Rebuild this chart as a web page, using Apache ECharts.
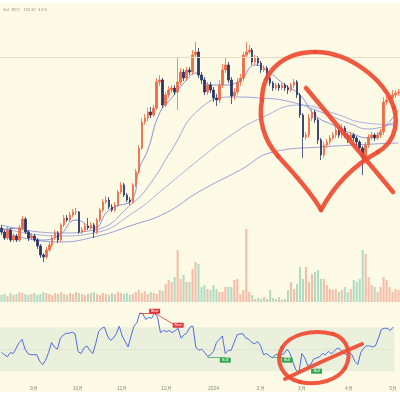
<!DOCTYPE html>
<html><head><meta charset="utf-8">
<script src="https://cdn.jsdelivr.net/npm/echarts/dist/echarts.min.js"></script>
<style>html,body{margin:0;padding:0;background:#fff}#c{width:400px;height:400px}</style>
</head><body><div id="c"></div>
<script>
// ---- data (price units, 2-day candles starting 2023-08-09) ----
const opens = [
0.72,0.68,0.62,0.70,0.60,0.64,0.60,0.72,0.81,0.68,
0.62,0.64,0.60,0.54,0.45,0.43,0.50,0.55,0.62,0.67,
0.60,0.75,0.82,0.80,0.85,0.88,0.88,0.68,0.70,0.74,
0.72,0.75,0.68,0.80,0.90,0.98,1.00,0.93,0.90,0.95,
1.08,1.15,1.05,1.00,0.98,1.15,1.28,1.52,1.78,1.82,
1.88,1.85,1.92,2.18,2.20,1.95,2.05,2.10,2.12,2.08,
2.18,2.28,2.22,2.30,2.28,2.45,2.48,2.25,2.20,2.08,
2.15,2.10,2.02,2.00,2.15,2.30,2.35,2.20,2.04,2.08,
2.18,2.22,2.45,2.48,2.50,2.38,2.42,2.37,2.30,2.32,
2.22,2.17,2.12,2.15,2.12,2.15,2.12,2.10,2.15,2.18,
2.05,1.85,1.63,1.65,1.82,1.88,1.80,1.60,1.45,1.55,
1.58,1.62,1.65,1.70,1.65,1.72,1.65,1.60,1.65,1.62,
1.58,1.52,1.42,1.55,1.63,1.65,1.62,1.65,1.68,1.98,
2.00,2.02,2.05,2.07];
const closes = [
0.68,0.62,0.70,0.60,0.64,0.60,0.72,0.81,0.68,0.62,
0.64,0.60,0.54,0.45,0.43,0.50,0.55,0.62,0.67,0.60,
0.75,0.82,0.80,0.85,0.88,0.88,0.68,0.70,0.74,0.72,
0.75,0.68,0.80,0.90,0.98,1.00,0.93,0.90,0.95,1.08,
1.15,1.05,1.00,0.98,1.15,1.28,1.52,1.78,1.82,1.88,
1.85,1.92,2.18,2.20,1.95,2.05,2.10,2.12,2.08,2.18,
2.28,2.22,2.30,2.28,2.45,2.48,2.25,2.20,2.08,2.15,
2.10,2.02,2.00,2.15,2.30,2.35,2.20,2.04,2.08,2.18,
2.22,2.45,2.48,2.50,2.38,2.42,2.37,2.30,2.32,2.22,
2.17,2.12,2.15,2.12,2.15,2.12,2.10,2.15,2.18,2.05,
1.85,1.63,1.65,1.82,1.88,1.80,1.60,1.45,1.55,1.58,
1.62,1.65,1.70,1.65,1.72,1.65,1.60,1.65,1.62,1.58,
1.52,1.42,1.55,1.63,1.65,1.62,1.65,1.68,1.98,2.00,
2.02,2.05,2.07,2.08];
const highs = [
0.75,0.70,0.73,0.72,0.67,0.66,0.75,0.84,0.83,0.70,
0.67,0.66,0.62,0.56,0.47,0.53,0.58,0.65,0.70,0.69,
0.77,0.85,0.85,0.88,0.91,0.92,0.89,0.73,0.77,0.82,
0.78,0.77,0.82,0.92,1.01,1.04,1.03,0.96,0.98,1.10,
1.18,1.17,1.07,1.03,1.17,1.31,1.55,1.82,1.86,1.92,
1.93,1.95,2.22,2.25,2.22,2.08,2.14,2.15,2.15,2.42,
2.32,2.31,2.33,2.33,2.50,2.58,2.52,2.28,2.23,2.18,
2.18,2.13,2.06,2.20,2.36,2.42,2.38,2.23,2.12,2.22,
2.26,2.48,2.58,2.55,2.52,2.45,2.44,2.39,2.35,2.34,
2.24,2.19,2.17,2.17,2.17,2.17,2.15,2.17,2.21,2.20,
2.07,1.87,1.68,1.86,1.91,1.90,1.82,1.62,1.58,1.61,
1.65,1.68,1.74,1.73,1.76,1.74,1.67,1.68,1.67,1.64,
1.60,1.54,1.58,1.66,1.68,1.67,1.68,1.71,2.03,2.04,
2.05,2.10,2.10,2.11];
const lows = [
0.65,0.60,0.60,0.58,0.58,0.58,0.58,0.70,0.66,0.59,
0.60,0.58,0.51,0.42,0.38,0.41,0.48,0.53,0.60,0.57,
0.58,0.73,0.78,0.78,0.83,0.85,0.66,0.66,0.68,0.70,
0.70,0.62,0.66,0.78,0.88,0.96,0.91,0.88,0.88,0.93,
1.06,1.03,0.98,0.95,0.96,1.13,1.26,1.50,1.75,1.79,
1.82,1.83,1.90,2.14,1.92,1.93,2.02,2.07,2.05,1.90,
2.15,2.19,2.19,2.25,2.25,2.42,2.22,2.16,2.05,2.05,
2.07,1.98,1.94,1.97,2.12,2.27,2.17,1.96,2.00,2.05,
2.14,2.19,2.42,2.46,2.35,2.35,2.34,2.27,2.28,2.19,
2.14,2.09,2.10,2.09,2.10,2.09,2.06,2.08,2.12,2.02,
1.82,1.42,1.60,1.62,1.79,1.77,1.56,1.40,1.42,1.52,
1.55,1.60,1.62,1.62,1.62,1.62,1.57,1.58,1.59,1.55,
1.49,1.25,1.40,1.52,1.60,1.59,1.60,1.62,1.65,1.95,
1.97,1.99,2.02,2.04];
const volumes = [
7,8,6,9,7,8,10,9,8,7,
8,9,7,8,10,9,8,7,9,8,
10,8,7,9,8,10,9,8,7,8,
9,10,8,7,9,8,7,9,8,10,
9,8,9,7,8,10,12,9,11,8,
10,9,8,12,11,18,22,20,25,52,
23,27,20,20,33,40,38,15,17,13,
12,17,13,10,10,15,15,15,22,23,
8,12,73,10,7,3,4,3,5,3,
12,4,3,5,2,3,12,20,13,18,
35,23,35,20,28,30,32,23,23,17,
13,12,13,10,12,15,10,13,22,20,
23,52,48,25,17,15,10,15,25,22,
15,10,13,12];
const rsi = [
47,45,43,47,46,51,56,59,50,46,
45,45,45,39,36,40,47,56,52,50,
60,63,64.5,64.5,65.5,64,48,46,51,53,
49,46,55,66,69,70,62,58,60,64,
71,62,57,52,62,71,74,83,82,77,
79,78,83,79,65,67,66,67,65,67,
69,60,63,65,70,71,52,49,50,47,
43.5,45,48,56,59,62,46,49,49,56,
63,64,64,60,59,56,55,57,53,45,
46,44,42,45,45,45,46,50,46,38,
31,29,46,42,35,36,41,42,43,46,
45,48,46,48,51,50,47,45,47,45,
39,36,47,51,53,53,52,53,60,68,
69,69,67,70];
// moving-average lines: [candle index, value]
const ma1 = [[0,0.70],[6,0.72],[13,0.60],[19,0.64],[25,0.80],[31,0.72],[36,0.90],[44,1.02],[46,1.30],[49,1.50],[53,1.87],[57,2.02],[62,2.20],[65,2.27],[70,2.15],[75,2.15],[80,2.20],[85,2.35],[90,2.27],[95,2.15],[100,2.05],[105,1.85],[111,1.75],[117,1.67],[123,1.62],[128,1.72],[133,1.90]];
const ma2 = [[0,0.75],[19,0.67],[31,0.70],[44,0.97],[50,1.17],[57,1.50],[66,1.90],[77,2.03],[87,2.02],[97,1.98],[107,1.88],[117,1.76],[123,1.71],[133,1.80]];
const ma3 = [[0,0.72],[19,0.64],[31,0.67],[44,0.87],[55,1.13],[66,1.40],[77,1.65],[87,1.82],[100,1.95],[111,1.87],[122,1.77],[133,1.75]];
const ma4 = [[0,0.68],[19,0.58],[31,0.63],[44,0.75],[55,0.87],[66,1.08],[80,1.30],[91,1.48],[107,1.53],[133,1.57]];
const refLevel = 2.43;
// x tick labels
const tickIdx = [11,26,41,56,72,88,102,118,133];
const tickLabels = ['9月','10月','11月','12月','2024','2月','3月','4月','5月'];
// RSI divergence marks
const bearLines = [[[47,83],[52,83]],[[52,83],[60,70]]];
const bullLines = [[[70,43],[76,43]],[[92,43],[96,43]],[[101,29],[105,34]]];
const bearLabels = [[52,84.5],[60,71.8]];
const bullLabels = [[76,40],[97,40],[107,30]];

// categories: dates every 2 days
const categories = [];
{ const d0 = new Date(Date.UTC(2023,7,9));
  for (let i=0;i<closes.length;i++){ const d=new Date(d0.getTime()+i*2*86400000); categories.push(d.toISOString().slice(0,10)); } }

const candle = closes.map((c,i)=>[opens[i],c,lows[i],highs[i]]);
const UP='#f06a45', DOWN='#2c3566';
const volData = volumes.map((v,i)=>({value:v,itemStyle:{color: closes[i]>=opens[i]?'rgba(240,130,110,0.5)':'rgba(80,185,155,0.45)'}}));

// hand-drawn red annotation strokes (cubic / quadratic segments)
const RED = {stroke:'#ef4b32',lineWidth:4.5,lineCap:'round',lineJoin:'round',opacity:0.92,fill:null};
function curve(p, w){
  const s = {x1:p[0],y1:p[1],x2:p[p.length-2],y2:p[p.length-1],cpx1:p[2],cpy1:p[3]};
  if (p.length===8){ s.cpx2=p[4]; s.cpy2=p[5]; }
  return {type:'bezierCurve',silent:true,z:100,shape:s,style:Object.assign({},RED,{lineWidth:w})};
}
const strokes = [
  [262,100, 262,70, 285,52, 315,52],
  [315,52, 350,52, 385,80, 394,108],
  [394,108, 400,130, 390,145, 378,152],
  [378,152, 360,162, 338,178, 321,210],
  [321,210, 310,190, 292,172, 278,156],
  [278,156, 264,140, 258,120, 262,100],
  [306,88, 348,138, 393,192]
].map(p=>curve(p,4.5)).concat([
  [333,334, 347,338, 353,354, 345,368],
  [345,368, 338,380, 318,386, 300,382],
  [300,382, 283,378, 274,362, 282,348],
  [282,348, 290,334, 312,329, 333,334],
  [285,379, 320,362, 362,344]
].map(p=>curve(p,4)));

const chart = echarts.init(document.getElementById('c'), null, {renderer:'canvas'});
const maLine = (data,color)=>({type:'line',xAxisIndex:0,yAxisIndex:0,data,smooth:0.5,showSymbol:false,silent:true,lineStyle:{width:0.9,color},z:1});
const xa = (gi,show)=>({type:'category',gridIndex:gi,data:categories,boundaryGap:true,
  axisLine:{show:false},axisTick:{show:false},splitLine:{show:false},
  axisLabel:{show:show,fontSize:5,color:'#8a8a8a',margin:2,
    interval:(idx)=>tickIdx.indexOf(idx)>=0,
    formatter:(v,idx)=>{const k=tickIdx.indexOf(idx);return k>=0?tickLabels[k]:'';}}});
chart.setOption({
  animation:false,
  backgroundColor:'#fdfbe6',
  grid:[
    {left:0,right:0,top:0,height:300},
    {left:0,right:0,top:222,height:80},
    {left:0,right:0,top:305.2,height:79.2}
  ],
  xAxis:[xa(0,false),xa(1,false),xa(2,true)],
  yAxis:[
    {type:'value',gridIndex:0,min:0,max:3,show:false},
    {type:'value',gridIndex:1,min:0,max:80,show:false},
    {type:'value',gridIndex:2,min:18,max:90,show:false}
  ],
  series:[
    {type:'bar',xAxisIndex:1,yAxisIndex:1,data:volData,barWidth:'70%',silent:true,z:0},
    maLine(ma4,'#8f93d4'),
    maLine(ma3,'#a2a6e2'),
    maLine(ma2,'#9499dc'),
    maLine(ma1,'#7d85d8'),
    {type:'candlestick',xAxisIndex:0,yAxisIndex:0,data:candle,barWidth:2,
      itemStyle:{color:UP,color0:DOWN,borderColor:UP,borderColor0:DOWN,borderWidth:0.8},
      markLine:{silent:true,symbol:'none',label:{show:false},lineStyle:{color:'#e8dcc2',width:1,type:'solid'},data:[{yAxis:refLevel}]},
      z:3},
    {type:'line',xAxisIndex:2,yAxisIndex:2,data:rsi,showSymbol:false,smooth:false,silent:true,
      lineStyle:{width:1,color:'#4f6fdc'},
      markArea:{silent:true,itemStyle:{color:'rgba(140,185,175,0.16)'},data:[[{yAxis:30},{yAxis:70}]]},
      markLine:{silent:true,symbol:'none',label:{show:false},
        data:[
          {yAxis:50,lineStyle:{color:'rgba(150,170,160,0.35)',width:0.6,type:'dashed'}},
          ...bearLines.map(l=>[{coord:l[0],lineStyle:{color:'#e3343c',width:0.8,type:'solid'}},{coord:l[1]}]),
          ...bullLines.map(l=>[{coord:l[0],lineStyle:{color:'#3aa65a',width:0.8,type:'solid'}},{coord:l[1]}])
        ]},
      markPoint:{silent:true,symbol:'rect',symbolSize:[11,5],
        label:{show:true,fontSize:3.5,color:'#fff',formatter:(p)=>p.name},
        data:[
          ...bearLabels.map(c=>({name:'Bear',coord:c,itemStyle:{color:'#e3343c'}})),
          ...bullLabels.map(c=>({name:'Bull',coord:c,itemStyle:{color:'#35a552'}}))
        ]}
    }
  ],
  graphic:[
    {type:'rect',shape:{x:0,y:0,width:400,height:3},style:{fill:'#ffffff'},silent:true},
    {type:'rect',shape:{x:0,y:392,width:400,height:8},style:{fill:'#ffffff'},silent:true},
    {type:'text',x:3,y:8,style:{text:'Vol · BTC   192.32  3.6 K',fontSize:4,fill:'#8c8c8c'},silent:true}
  ].concat(strokes)
});
</script></body></html>
